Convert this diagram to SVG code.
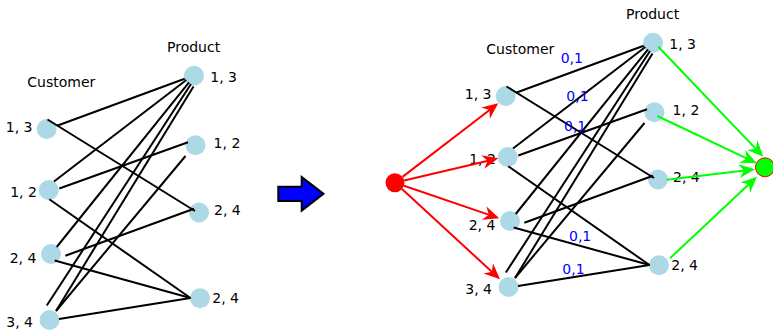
<svg xmlns="http://www.w3.org/2000/svg" width="773" height="331" viewBox="0 0 773 331">
  <defs>
    <style>
      .node { fill: #add8e6; }
      .edge { stroke: #000; stroke-width: 2; fill: none; }
      .lbl { font-family: "DejaVu Sans", "Liberation Sans", sans-serif; font-size: 14px; fill: #000; }
      .cap { font-family: "DejaVu Sans", "Liberation Sans", sans-serif; font-size: 14px; fill: #0000ff; }
      .in { stroke: #ff0000; stroke-width: 2; fill: none; marker-end: url(#head-red); }
      .out { stroke: #00ff00; stroke-width: 2; fill: none; marker-end: url(#head-green); }
    </style>
    <marker id="head-red" markerUnits="userSpaceOnUse" markerWidth="24" markerHeight="24" refX="0" refY="0" viewBox="-12 -12 24 24" orient="auto" overflow="visible">
      <path d="M6,0 L-10,-7 L-5,0 L-10,7 Z" fill="#ff0000"/>
    </marker>
    <marker id="head-green" markerUnits="userSpaceOnUse" markerWidth="24" markerHeight="24" refX="0" refY="0" viewBox="-12 -12 24 24" orient="auto" overflow="visible">
      <path d="M6,0 L-10,-7 L-5,0 L-10,7 Z" fill="#00ff00"/>
    </marker>
  </defs>

  <rect width="773" height="331" fill="#ffffff"/>

  <!-- Left: bipartite customer / product graph -->
  <g id="left-graph">
    <text class="lbl" x="27.3" y="86.7">Customer</text>
    <text class="lbl" x="167" y="51.7">Product</text>

    <g id="l-c1"><circle class="node" cx="46.7" cy="129" r="10"/><text class="lbl" x="5.8" y="131.7">1, 3</text></g>
    <g id="l-c2"><circle class="node" cx="48.7" cy="190" r="10"/><text class="lbl" x="10.2" y="196.7">1, 2</text></g>
    <g id="l-c3"><circle class="node" cx="51" cy="254" r="10"/><text class="lbl" x="9.7" y="263.3">2, 4</text></g>
    <g id="l-c4"><circle class="node" cx="49.5" cy="320" r="10"/><text class="lbl" x="6.3" y="327">3, 4</text></g>
    <g id="l-p1"><circle class="node" cx="194" cy="75.7" r="10"/><text class="lbl" x="210.3" y="81.7">1, 3</text></g>
    <g id="l-p2"><circle class="node" cx="195.5" cy="145.3" r="10"/><text class="lbl" x="213.6" y="148.3">1, 2</text></g>
    <g id="l-p3"><circle class="node" cx="199" cy="212.5" r="10"/><text class="lbl" x="214" y="215">2, 4</text></g>
    <g id="l-p4"><circle class="node" cx="200" cy="298.3" r="10"/><text class="lbl" x="212.3" y="302.7">2, 4</text></g>

    <g id="l-edges" class="edge">
      <line x1="57" y1="125.7" x2="184.7" y2="78.8"/>
      <line x1="47.5" y1="119.5" x2="195" y2="211"/>
      <line x1="54" y1="181.5" x2="186.3" y2="80"/>
      <line x1="59.3" y1="188.5" x2="188" y2="142.3"/>
      <line x1="49.3" y1="199.3" x2="190.5" y2="298"/>
      <line x1="56.7" y1="247" x2="189" y2="82.3"/>
      <line x1="65.3" y1="255.8" x2="194" y2="208.8"/>
      <line x1="54.7" y1="260.5" x2="190.5" y2="298"/>
      <line x1="46.8" y1="305.5" x2="191" y2="84"/>
      <line x1="56" y1="311" x2="193.5" y2="86.5"/>
      <line x1="56" y1="311" x2="185.5" y2="156"/>
      <line x1="59" y1="319" x2="190.5" y2="298"/>
    </g>
  </g>

  <!-- Transition arrow -->
  <polygon id="step-arrow" points="278.3,186.7 301.7,186.7 301.7,177 323.5,193.8 301.7,210.6 301.7,201 278.3,201" fill="#0000ff" stroke="#000" stroke-width="2" stroke-linejoin="miter"/>

  <!-- Right: same graph as a flow network -->
  <g id="right-graph">
    <g transform="translate(459,-33)">
      <text class="lbl" x="27.3" y="86.7">Customer</text>
      <text class="lbl" x="167" y="51.7">Product</text>

      <g id="r-c1"><circle class="node" cx="46.7" cy="129" r="10"/><text class="lbl" x="5.8" y="131.7">1, 3</text></g>
      <g id="r-c2"><circle class="node" cx="48.7" cy="190" r="10"/><text class="lbl" x="10.2" y="196.7">1, 2</text></g>
      <g id="r-c3"><circle class="node" cx="51" cy="254" r="10"/><text class="lbl" x="9.7" y="263.3">2, 4</text></g>
      <g id="r-c4"><circle class="node" cx="49.5" cy="320" r="10"/><text class="lbl" x="6.3" y="327">3, 4</text></g>
      <g id="r-p1"><circle class="node" cx="194" cy="75.7" r="10"/><text class="lbl" x="210.3" y="81.7">1, 3</text></g>
      <g id="r-p2"><circle class="node" cx="195.5" cy="145.3" r="10"/><text class="lbl" x="213.6" y="148.3">1, 2</text></g>
      <g id="r-p3"><circle class="node" cx="199" cy="212.5" r="10"/><text class="lbl" x="214" y="215">2, 4</text></g>
      <g id="r-p4"><circle class="node" cx="200" cy="298.3" r="10"/><text class="lbl" x="212.3" y="302.7">2, 4</text></g>

      <g id="r-edges" class="edge">
        <line x1="57" y1="125.7" x2="184.7" y2="78.8"/>
        <line x1="47.5" y1="119.5" x2="195" y2="211"/>
        <line x1="54" y1="181.5" x2="186.3" y2="80"/>
        <line x1="59.3" y1="188.5" x2="188" y2="142.3"/>
        <line x1="49.3" y1="199.3" x2="190.5" y2="298"/>
        <line x1="56.7" y1="247" x2="189" y2="82.3"/>
        <line x1="65.3" y1="255.8" x2="194" y2="208.8"/>
        <line x1="54.7" y1="260.5" x2="190.5" y2="298"/>
        <line x1="46.8" y1="305.5" x2="191" y2="84"/>
        <line x1="56" y1="311" x2="193.5" y2="86.5"/>
        <line x1="56" y1="311" x2="185.5" y2="156"/>
        <line x1="59" y1="319" x2="190.5" y2="298"/>
      </g>
    </g>

    <!-- capacities -->
    <g id="capacities">
      <text class="cap" x="560.7" y="63.3">0,1</text>
      <text class="cap" x="566.3" y="100.7">0,1</text>
      <text class="cap" x="564" y="130.7">0,1</text>
      <text class="cap" x="569" y="241">0,1</text>
      <text class="cap" x="562.3" y="274.3">0,1</text>
    </g>

    <!-- source and sink arcs -->
    <g id="flow-arcs">
      <line class="in" x1="402.5" y1="176.9" x2="493.5" y2="107"/>
      <line class="in" x1="404.2" y1="180.5" x2="492.5" y2="159.7"/>
      <line class="in" x1="404" y1="185.8" x2="493.6" y2="216.4"/>
      <line class="in" x1="402" y1="189.1" x2="495.6" y2="275.2"/>
      <line class="out" x1="658.3" y1="46.7" x2="759.2" y2="152.4"/>
      <line class="out" x1="657.3" y1="116" x2="751.3" y2="160.7"/>
      <line class="out" x1="666.7" y1="179.7" x2="749" y2="170"/>
      <line class="out" x1="670" y1="258.3" x2="752.6" y2="180.8"/>
    </g>

    <g id="source"><circle cx="395" cy="182.7" r="9.5" fill="#ff0000"/></g>
    <g id="sink"><circle cx="765" cy="167.3" r="9.5" fill="#00ff00" stroke="#ff0000" stroke-width="1"/></g>
  </g>
</svg>
